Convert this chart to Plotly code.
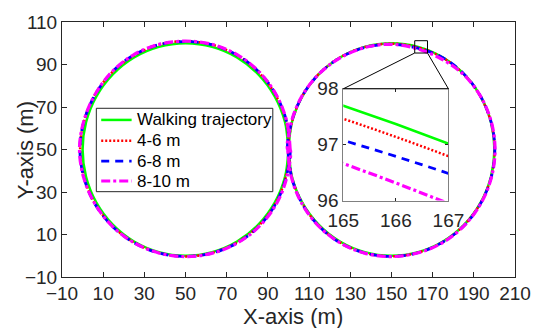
import plotly.graph_objects as go
import numpy as np

# ---- data -------------------------------------------------------------
# Planned walking route: two touching circles (figure eight)
left_center = [50, 50]
right_center = [150, 50]
radius = 50

# Sample angles (degrees, counter-clockwise from +x) on each circle
angles_deg = [0, 15, 30, 45, 60, 75, 90, 105, 120, 135, 150, 165,
              180, 195, 210, 225, 240, 255, 270, 285, 300, 315, 330, 345]

# Radial error (m) of each estimated trajectory at those angles
red_left = [0.4, 0.6, 0.7, 0.8, 0.9, 1.0, 1.0, 0.9, 0.8, 0.9, 1.0, 1.1,
            1.2, 1.0, 0.8, 0.6, 0.4, 0.3, 0.3, 0.3, 0.4, 0.5, 0.5, 0.4]
red_right = [0.1, 0.0, -0.1, -0.1, -0.15, -0.23, -0.2, -0.1, 0.0, 0.1, 0.1, 0.0,
             0.0, 0.1, 0.2, 0.3, 0.3, 0.3, 0.3, 0.2, 0.2, 0.1, 0.1, 0.1]
blue_left = [0.6, 0.8, 0.9, 1.0, 1.0, 0.9, 0.8, 1.0, 1.1, 1.0, 0.9, 1.1,
             1.3, 1.1, 0.9, 0.7, 0.5, 0.4, 0.3, 0.4, 0.6, 0.8, 0.7, 0.6]
blue_right = [0.2, 0.1, 0.0, 0.0, -0.1, -0.65, -0.5, -0.3, -0.1, 0.0, 0.1, 0.2,
              0.3, 0.2, 0.3, 0.4, 0.5, 0.4, 0.3, 0.3, 0.2, 0.3, 0.2, 0.2]
magenta_left = [0.8, 0.9, 1.0, 1.1, 1.2, 1.1, 1.0, 1.1, 1.2, 1.1, 1.0, 1.2,
                1.5, 1.2, 0.9, 0.7, 0.5, 0.4, 0.4, 0.5, 0.7, 0.9, 1.0, 0.9]
magenta_right = [0.3, 0.2, 0.0, -0.3, -0.95, -0.95, -0.5, -0.3, -0.2, 0.0, 0.2, 0.3,
                 0.4, 0.3, 0.4, 0.5, 0.5, 0.5, 0.4, 0.3, 0.4, 0.3, 0.3, 0.3]
zero_err = [0.0] * len(angles_deg)

series_names = ["Walking trajectory", "4-6 m", "6-8 m", "8-10 m"]
x_ticks = [-10, 10, 30, 50, 70, 90, 110, 130, 150, 170, 190, 210]
y_ticks = [-10, 10, 30, 50, 70, 90, 110]
inset_x_ticks = [165, 166, 167]
inset_y_ticks = [96, 97, 98]

# zoomed region marker on the main axes
zoom_box_x = [161.3, 167.5]
zoom_box_y = [95.4, 101.2]


def figure_eight(err_left, err_right):
    """Left circle counter-clockwise from (100,50), then right circle clockwise."""
    n = len(angles_deg)
    xs, ys = [], []
    for i in range(n + 1):
        a = np.radians(angles_deg[i % n])
        r = radius + err_left[i % n]
        xs.append(left_center[0] + r * np.cos(a))
        ys.append(left_center[1] + r * np.sin(a))
    start = angles_deg.index(180)
    for k in range(n + 1):
        j = (start - k) % n
        a = np.radians(angles_deg[j])
        r = radius + err_right[j]
        xs.append(right_center[0] + r * np.cos(a))
        ys.append(right_center[1] + r * np.sin(a))
    return xs, ys


styles = [
    dict(color="#00ff00", width=2.5, dash="solid"),
    dict(color="#ff0000", width=2.5, dash="2px,2px"),
    dict(color="#0000ff", width=2.8, dash="8px,6px"),
    dict(color="#ff00ff", width=3.2, dash="9px,3px,3px,3px"),
]
errors = [(zero_err, zero_err), (red_left, red_right),
          (blue_left, blue_right), (magenta_left, magenta_right)]

fig = go.Figure()
for axes in (("x", "y"), ("x2", "y2")):
    for name, st, (el, er) in zip(series_names, styles, errors):
        xs, ys = figure_eight(el, er)
        fig.add_trace(go.Scatter(x=xs, y=ys, mode="lines", name=name,
                                 line=dict(shape="spline", **st),
                                 xaxis=axes[0], yaxis=axes[1], showlegend=False))

# ---- layout -----------------------------------------------------------
FONT = "Liberation Sans, Arial, sans-serif"
INK = "#262626"
W, H = 543, 328
M_L, M_R, M_T, M_B = 62, 19, 14, 51
x_range = [-10, 210]
y_range = [-10, 110]
inset_dom_x = [0.621, 0.853]
inset_dom_y = [0.300, 0.738]


def px(x):
    return (x - x_range[0]) / (x_range[1] - x_range[0])


def py(y):
    return (y - y_range[0]) / (y_range[1] - y_range[0])


def pix_x(p):
    return (p - M_L) / (W - M_L - M_R)


def pix_y(p):
    return (H - M_B - p) / (H - M_T - M_B)


axis_common = dict(showline=True, linecolor=INK, linewidth=1, mirror="ticks",
                   ticks="inside", ticklen=5, tickcolor=INK, showgrid=False,
                   zeroline=False, tickfont=dict(family=FONT, size=19, color=INK))

shapes = [
    dict(type="rect", xref="paper", yref="paper",
         x0=px(zoom_box_x[0]), x1=px(zoom_box_x[1]),
         y0=py(zoom_box_y[0]), y1=py(zoom_box_y[1]),
         line=dict(color="black", width=1)),
    dict(type="line", xref="paper", yref="paper",
         x0=px(zoom_box_x[0]), y0=py(zoom_box_y[0]),
         x1=inset_dom_x[0], y1=inset_dom_y[1],
         line=dict(color="black", width=1)),
    dict(type="line", xref="paper", yref="paper",
         x0=px(zoom_box_x[1]), y0=py(zoom_box_y[0]),
         x1=inset_dom_x[1], y1=inset_dom_y[1],
         line=dict(color="black", width=1)),
    dict(type="line", xref="paper", yref="paper",
         x0=inset_dom_x[0], y0=inset_dom_y[1],
         x1=inset_dom_x[1], y1=inset_dom_y[1],
         line=dict(color="black", width=1)),
]

# legend box drawn by hand so the row spacing stays compact
annotations = []
leg_left, leg_right, leg_top, leg_bottom = 97, 277, 103, 189
row_y = [115, 136.5, 157.5, 178]
shapes.append(dict(type="rect", xref="paper", yref="paper",
                   x0=pix_x(leg_left), x1=pix_x(leg_right),
                   y0=pix_y(leg_bottom), y1=pix_y(leg_top),
                   line=dict(color=INK, width=1), fillcolor="white", layer="above"))
for name, st, ry in zip(series_names, styles, row_y):
    shapes.append(dict(type="line", xref="paper", yref="paper",
                       x0=pix_x(102), x1=pix_x(133), y0=pix_y(ry), y1=pix_y(ry),
                       line=dict(color=st["color"], width=st["width"], dash=st["dash"]),
                       layer="above"))
    annotations.append(dict(text=name, xref="paper", yref="paper",
                            x=pix_x(136), y=pix_y(ry), xanchor="left", yanchor="middle",
                            showarrow=False,
                            font=dict(family=FONT, size=17, color="black")))

# axis titles
annotations.append(dict(text="X-axis (m)", xref="paper", yref="paper",
                        x=pix_x(298), y=pix_y(318), xanchor="center", yanchor="middle",
                        showarrow=False, font=dict(family=FONT, size=22, color=INK)))
annotations.append(dict(text="Y-axis (m)", xref="paper", yref="paper",
                        x=pix_x(25), y=pix_y(146.5), xanchor="center", yanchor="middle",
                        textangle=-90, showarrow=False,
                        font=dict(family=FONT, size=22, color=INK)))

fig.update_layout(
    width=W, height=H,
    margin=dict(l=M_L, r=M_R, t=M_T, b=M_B),
    paper_bgcolor="white", plot_bgcolor="white",
    font=dict(family=FONT, color=INK),
    xaxis=dict(range=x_range, tickvals=x_ticks, domain=[0, 1], anchor="y",
               ticklabelstandoff=-1, **axis_common),
    yaxis=dict(range=y_range, tickvals=y_ticks, domain=[0, 1], anchor="x",
               **axis_common),
    xaxis2=dict(range=[165, 167], tickvals=inset_x_ticks, domain=inset_dom_x,
                anchor="y2", ticklabelstandoff=3,
                **{**axis_common, "linecolor": "#808080", "ticklen": 3}),
    yaxis2=dict(range=[96, 98], tickvals=inset_y_ticks, domain=inset_dom_y,
                anchor="x2", **{**axis_common, "linecolor": "#808080", "ticklen": 3}),
    shapes=shapes,
    annotations=annotations,
    showlegend=False,
)

fig.write_html("out.html")
